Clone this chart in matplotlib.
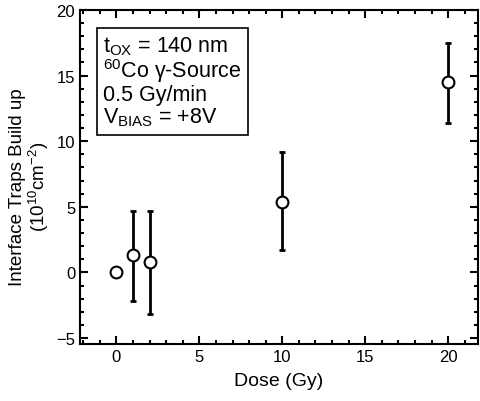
import matplotlib
matplotlib.use("Agg")
import matplotlib.pyplot as plt
from matplotlib.ticker import MultipleLocator

plt.rcParams['font.family'] = ['Liberation Sans', 'DejaVu Sans']
plt.rcParams['mathtext.fontset'] = 'custom'
plt.rcParams['mathtext.rm'] = 'Liberation Sans'
plt.rcParams['mathtext.it'] = 'Liberation Sans'

dose = [0, 1, 2, 10, 20]
traps = [0.0, 1.3, 0.8, 5.4, 14.5]
err_low = [0.0, 3.5, 4.0, 3.7, 3.1]
err_high = [0.0, 3.4, 3.9, 3.8, 3.0]

fig = plt.figure(figsize=(4.8, 4.02), dpi=100)
ax = fig.add_axes([0.1667, 0.1418, 0.829, 0.831])

ax.errorbar(dose[1:], traps[1:], yerr=[err_low[1:], err_high[1:]], fmt='none',
            ecolor='black', elinewidth=2, capsize=2, capthick=2, zorder=2)
ax.plot(dose, traps, 'o', mfc='white', mec='black', mew=1.5, ms=8.5, zorder=3)

ax.set_xlim(-2.2, 21.8)
ax.set_ylim(-5.45, 20)
ax.xaxis.set_major_locator(MultipleLocator(5))
ax.xaxis.set_minor_locator(MultipleLocator(1))
ax.yaxis.set_major_locator(MultipleLocator(5))
ax.yaxis.set_minor_locator(MultipleLocator(1))
ax.tick_params(which='both', direction='in', top=True, right=True, width=1.5, labelsize=12)
ax.tick_params(which='major', length=6)
ax.tick_params(which='minor', length=3)
for s in ax.spines.values():
    s.set_linewidth(1.5)

ax.set_xlabel('Dose (Gy)', fontsize=14, labelpad=6)
ax.set_ylabel('Interface Traps Build up\n' + r'($\mathregular{10^{10}cm^{-2}}$)',
              fontsize=13.5, linespacing=1.05, multialignment='center')
ax.yaxis.set_label_coords(-0.072, 0.473)

txt = (r'$\mathregular{t_{OX}}$ = 140 nm' + '\n' +
       r'$\mathregular{^{60}}$Co γ-Source' + '\n' +
       '0.5 Gy/min' + '\n' +
       r'$\mathregular{V_{BIAS}}$ = +8V')
ax.text(0.058, 0.928, txt, transform=ax.transAxes, fontsize=15.5, va='top', ha='left',
        linespacing=1.0,
        bbox=dict(boxstyle='square,pad=0.3', fc='white', ec='black', lw=1.2))

fig.savefig('out.png', dpi=100)
